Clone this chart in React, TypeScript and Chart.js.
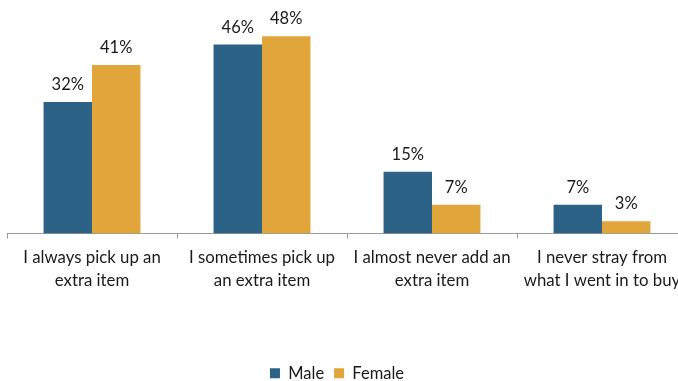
import React, { useEffect, useRef } from "react";
import { Chart, registerables } from "chart.js";

Chart.register(...registerables);

const categories: string[][] = [
  ["I always pick up an", "extra item"],
  ["I sometimes pick up", "an extra item"],
  ["I almost never add an", "extra item"],
  ["I never stray from", "what I went in to buy"],
];
const maleValues = [32, 46, 15, 7];
const femaleValues = [41, 48, 7, 3];
const seriesNames = ["Male", "Female"];

const SHIFT = 13;
const CANVAS_W = 703;
const CANVAS_H = 400;

const valueLabels = {
  id: "valueLabels",
  afterDatasetsDraw(chart: any) {
    const ctx = chart.ctx;
    ctx.save();
    ctx.font = "16.5px Lato";
    ctx.fillStyle = "#1a1a1a";
    ctx.textAlign = "center";
    ctx.textBaseline = "bottom";
    chart.data.datasets.forEach((ds: any, i: number) => {
      const meta = chart.getDatasetMeta(i);
      meta.data.forEach((el: any, j: number) => {
        ctx.fillText(`${ds.data[j]}%`, el.x, el.y - 9);
      });
    });
    ctx.restore();
  },
};

export default function App() {
  const ref = useRef<HTMLCanvasElement>(null);
  useEffect(() => {
    const chart = new Chart(ref.current!, {
      type: "bar",
      data: {
        labels: categories,
        datasets: [
          { label: seriesNames[0], data: maleValues, backgroundColor: "#2C6286" },
          { label: seriesNames[1], data: femaleValues, backgroundColor: "#E1A63B" },
        ],
      },
      options: {
        responsive: false,
        animation: false,
        layout: { padding: { left: 0, right: 3, top: 28, bottom: 8.5 } },
        datasets: { bar: { categoryPercentage: 0.57, barPercentage: 1 } },
        scales: {
          x: {
            grid: { display: true, drawOnChartArea: false, drawTicks: true, tickLength: 5, color: "#9a9a9a", offset: true },
            border: { display: true, color: "#9a9a9a", width: 1 },
            ticks: {
              font: { family: "Lato", size: 16.8, lineHeight: 1.38 },
              color: "#1a1a1a",
              padding: 7,
              maxRotation: 0,
              autoSkip: false,
            },
            afterFit(scale: any) {
              scale.height = 121.5;
            },
          },
          y: {
            min: 0,
            max: 50,
            display: true,
            grid: { display: false },
            border: { display: false },
            ticks: { display: false },
            afterFit(scale: any) {
              scale.width = 20;
            },
          },
        },
        plugins: {
          legend: {
            position: "bottom",
            labels: {
              boxWidth: 10,
              boxHeight: 10,
              padding: 10,
              font: { family: "Lato", size: 16.5 },
              color: "#1a1a1a",
            },
          },
          tooltip: { enabled: false },
        },
      },
      plugins: [valueLabels],
    });
    return () => chart.destroy();
  }, []);
  return (
    <div style={{ position: "fixed", left: 0, top: 0, width: 678, height: 381, overflow: "hidden", background: "#fff" }}>
      <canvas
        ref={ref}
        width={CANVAS_W}
        height={CANVAS_H}
        style={{ position: "absolute", left: -SHIFT, top: 0, width: CANVAS_W, height: CANVAS_H }}
      />
    </div>
  );
}
